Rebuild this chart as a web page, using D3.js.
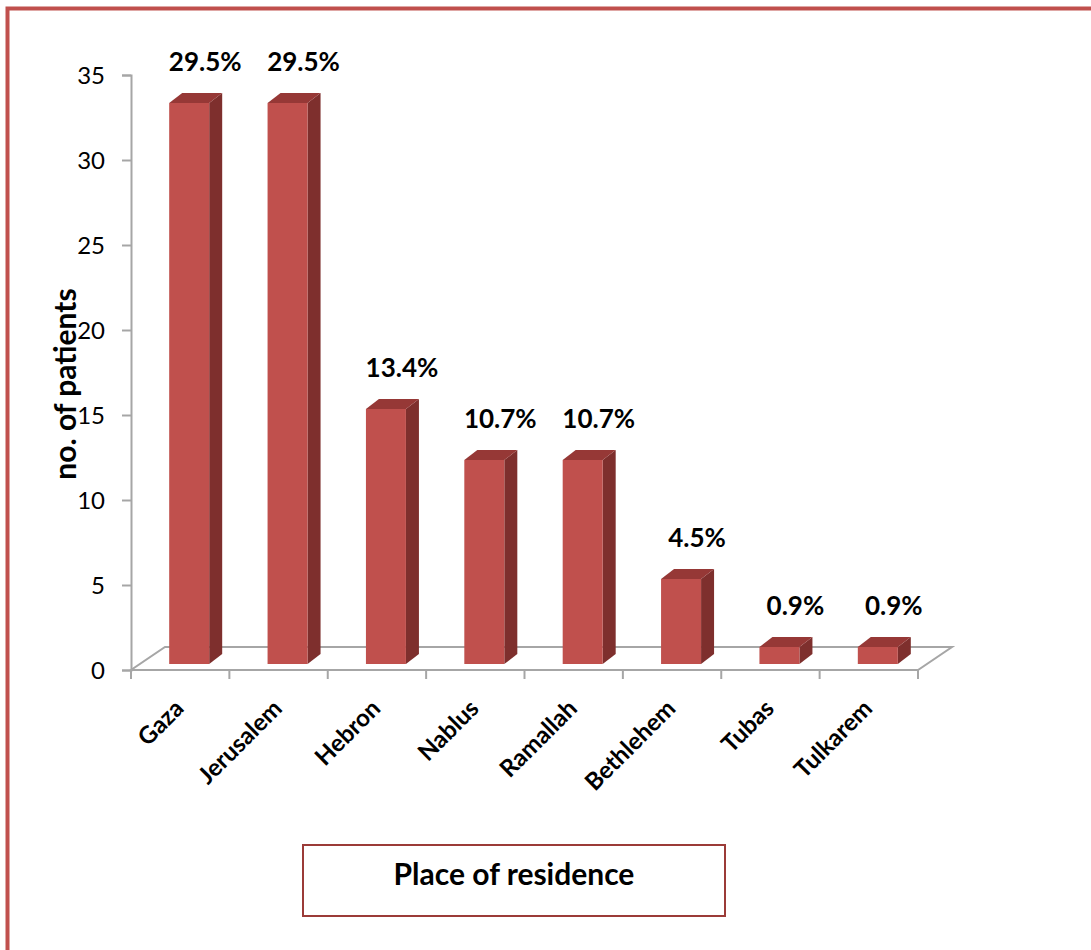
<!DOCTYPE html>
<html>
<head>
<meta charset="utf-8">
<script src="https://cdn.jsdelivr.net/npm/d3@7"></script>
<style>
  html, body { margin: 0; padding: 0; background: #fff; }
  svg { display: block; }
  text { font-family: Lato, "Open Sans", sans-serif; fill: #000; }
</style>
</head>
<body>
<svg id="chart" width="1091" height="950"></svg>
<script>
// Patients by place of residence
const categories = ["Gaza", "Jerusalem", "Hebron", "Nablus", "Ramallah", "Bethlehem", "Tubas", "Tulkarem"];
const patients   = [33, 33, 15, 12, 12, 5, 1, 1];
const yTicks     = [0, 5, 10, 15, 20, 25, 30, 35];
const yTitle     = "no. of patients";
const xTitle     = "Place of residence";

const total = d3.sum(patients);
const pct = d3.format(".1%");
const data = categories.map((c, i) => ({ cat: c, v: patients[i] }));

const svg = d3.select("#chart");

// frame
svg.append("rect")
  .attr("x", 7.5).attr("y", 8.5)
  .attr("width", 1200).attr("height", 1200)
  .attr("fill", "none").attr("stroke", "#C0504D").attr("stroke-width", 4);

const x = d3.scaleBand().domain(categories).range([131, 918]);
const y = d3.scaleLinear().domain([0, 35]).range([670, 75]);

// floor depth (perspective offset of the back edge) and bar geometry
const floorDX = 34, floorDY = -23;
const barW = 40, barDX = 13, barDY = -10;
const barShiftX = 9, barShiftY = -6;
const axisGrey = "#A6A6A6";

// 3D floor outline
const x0 = x.range()[0], x1 = x.range()[1], yb = y(0);
svg.append("path")
  .attr("d", `M${x0},${yb} L${x1},${yb} L${x1 + floorDX},${yb + floorDY} L${x0 + floorDX},${yb + floorDY} Z`)
  .attr("fill", "none").attr("stroke", axisGrey).attr("stroke-width", 2);

// value axis
const yAxis = svg.append("g").attr("transform", `translate(${x0},0)`)
  .call(d3.axisLeft(y).tickValues(yTicks).tickSize(9).tickPadding(17).tickFormat(d3.format("d")));
yAxis.select(".domain").attr("stroke", axisGrey).attr("stroke-width", 2);
yAxis.selectAll(".tick line").attr("stroke", axisGrey).attr("stroke-width", 2);
yAxis.selectAll(".tick text")
  .attr("font-size", 24).attr("font-family", "Lato, sans-serif").attr("fill", "#000")
  .attr("dy", "0.36em");

// category axis ticks at band boundaries
const bounds = categories.map(c => x(c)).concat([x1]);
svg.append("g").selectAll("line").data(bounds).join("line")
  .attr("x1", d => d).attr("x2", d => d)
  .attr("y1", yb).attr("y2", yb + 9)
  .attr("stroke", axisGrey).attr("stroke-width", 2);

// bars
const bars = svg.append("g").selectAll("g").data(data).join("g");
const fx = d => x(d.cat) + x.bandwidth() / 2 - barW / 2 + barShiftX;
const topY = d => y(d.v) + barShiftY;
const botY = y(0) + barShiftY;

// side face
bars.append("path")
  .attr("d", d => {
    const l = fx(d) + barW, t = topY(d);
    return `M${l},${botY} L${l + barDX},${botY + barDY} L${l + barDX},${t + barDY} L${l},${t} Z`;
  })
  .attr("fill", "#7E2F2D");
// top face
bars.append("path")
  .attr("d", d => {
    const l = fx(d), t = topY(d);
    return `M${l},${t} L${l + barDX},${t + barDY} L${l + barW + barDX},${t + barDY} L${l + barW},${t} Z`;
  })
  .attr("fill", "#963836");
// front face
bars.append("rect")
  .attr("x", fx).attr("y", topY)
  .attr("width", barW).attr("height", d => botY - topY(d))
  .attr("fill", "#C0504D");

// percentage labels
svg.append("g").selectAll("text").data(data).join("text")
  .attr("x", d => fx(d) + barW / 2 + 16)
  .attr("y", d => topY(d) - 32)
  .attr("text-anchor", "middle")
  .attr("font-weight", 700).attr("font-size", 26)
  .text(d => pct(d.v / total));

// category labels
svg.append("g").selectAll("text").data(categories).join("text")
  .attr("transform", c => `translate(${x(c) + x.bandwidth() / 2 + 5},${yb + 40}) rotate(-45)`)
  .attr("text-anchor", "end")
  .attr("font-weight", 700).attr("font-size", 24)
  .text(c => c);

// value axis title
svg.append("text")
  .attr("transform", `translate(76,384) rotate(-90)`)
  .attr("text-anchor", "middle")
  .attr("font-weight", 700).attr("font-size", 30)
  .text(yTitle);

// category axis title in a box
svg.append("rect")
  .attr("x", 303).attr("y", 845).attr("width", 422).attr("height", 71)
  .attr("fill", "#fff").attr("stroke", "#9B3B38").attr("stroke-width", 2);
svg.append("text")
  .attr("x", 514).attr("y", 885)
  .attr("text-anchor", "middle")
  .attr("font-weight", 700).attr("font-size", 30)
  .text(xTitle);
</script>
</body>
</html>
